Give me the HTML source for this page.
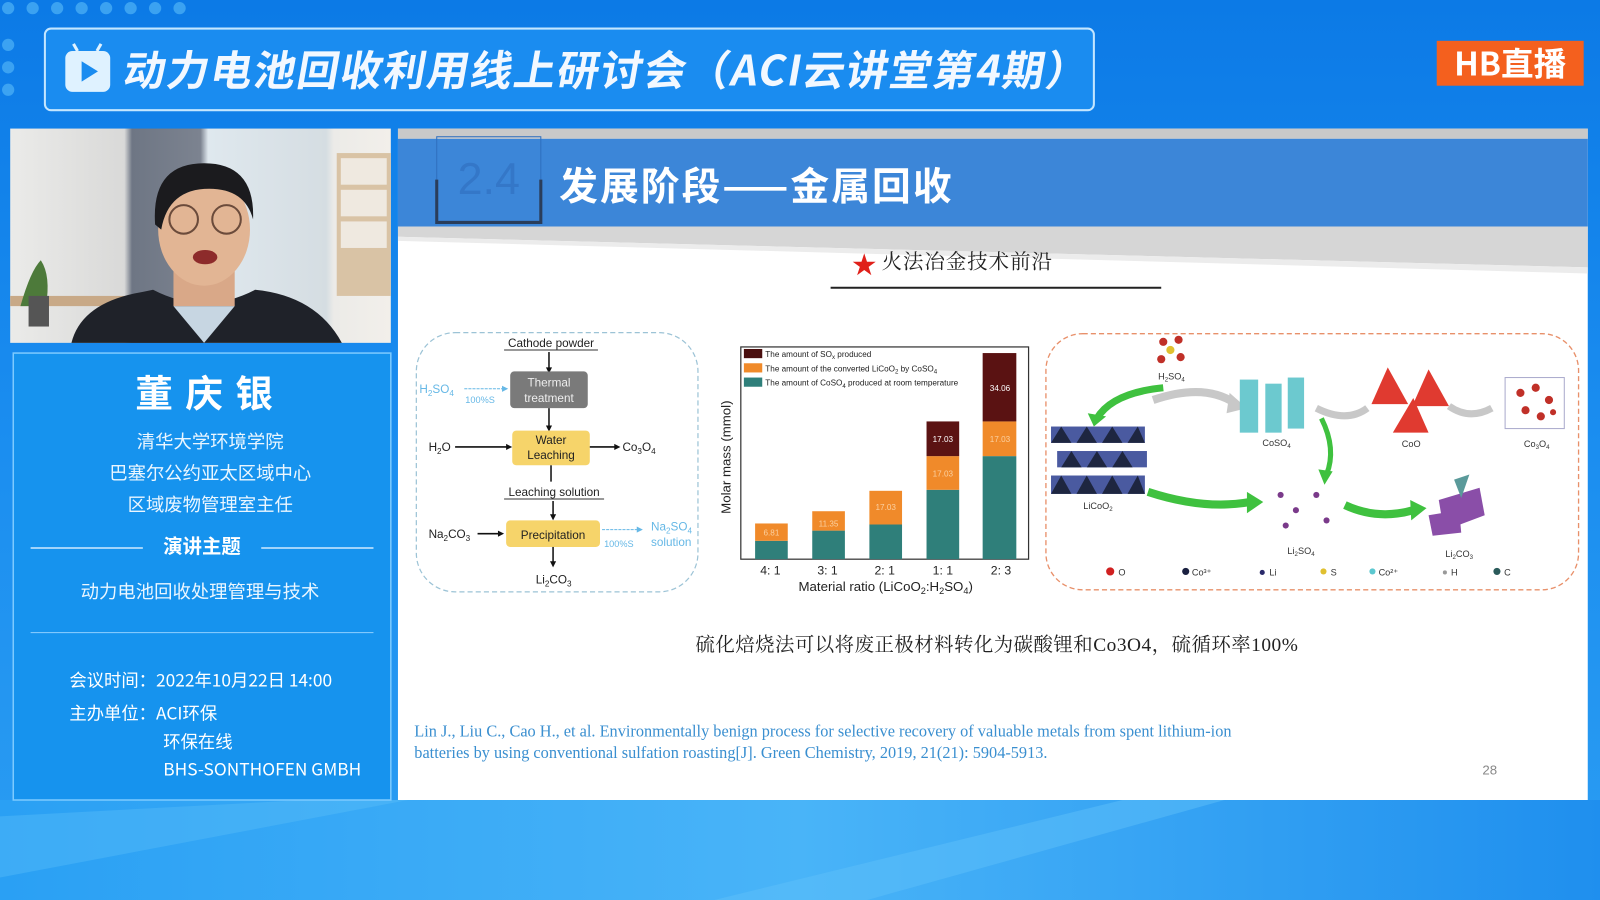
<!DOCTYPE html>
<html><head><meta charset="utf-8"><style>
html,body{margin:0;padding:0;width:1600px;height:900px;overflow:hidden;background:#1a8cf0}
svg{display:block}
text{font-family:"Liberation Sans","Noto Sans CJK SC",sans-serif}
.cn text,text.cn{font-family:"Noto Sans CJK SC","Liberation Sans",sans-serif}
.sf text,text.sf{font-family:"Liberation Serif","Noto Serif CJK SC",serif}
</style></head><body>
<svg width="1600" height="900" viewBox="0 0 1568 882" xmlns="http://www.w3.org/2000/svg">
<defs>
<linearGradient id="bg" x1="0" y1="0" x2="0" y2="1">
<stop offset="0" stop-color="#0c7ae6"/><stop offset="0.5" stop-color="#1b8ef0"/><stop offset="1" stop-color="#2b9df2"/></linearGradient>
<linearGradient id="bot" x1="0" y1="0" x2="1" y2="0">
<stop offset="0" stop-color="#2aa0f4"/><stop offset="0.5" stop-color="#49b4f8"/><stop offset="1" stop-color="#1f8fee"/></linearGradient>
<linearGradient id="cam" x1="0" y1="0" x2="1" y2="0">
<stop offset="0" stop-color="#ebebe9"/><stop offset="0.3" stop-color="#d9d9d8"/><stop offset="0.32" stop-color="#6e7684"/><stop offset="0.5" stop-color="#7c8390"/><stop offset="0.52" stop-color="#dfe8ee"/><stop offset="0.83" stop-color="#d5dde2"/><stop offset="0.85" stop-color="#ecebe8"/><stop offset="1" stop-color="#f2efea"/></linearGradient>
</defs>
<rect width="1568" height="882" fill="url(#bg)"/>
<polygon points="0,784 1568,784 1568,882 0,882" fill="url(#bot)"/>
<polygon points="700,882 1100,784 1200,784 850,882" fill="#5ec0fa" opacity="0.5"/>
<polygon points="0,800 300,784 400,784 0,860" fill="#62c2fa" opacity="0.35"/>
<g fill="#4fb3f7" opacity="0.7">
<circle cx="8" cy="8" r="6"/><circle cx="32" cy="8" r="6"/><circle cx="56" cy="8" r="6"/><circle cx="80" cy="8" r="6"/><circle cx="104" cy="8" r="6"/><circle cx="128" cy="8" r="6"/><circle cx="152" cy="8" r="6"/><circle cx="176" cy="8" r="6"/><circle cx="8" cy="44" r="6"/><circle cx="8" cy="66" r="6"/><circle cx="8" cy="88" r="6"/>
</g>
<!-- Title -->
<rect x="44" y="28" width="1028" height="80" rx="6" fill="#1a8cf0" stroke="#c4e6ff" stroke-width="2"/>
<rect x="64" y="50" width="44" height="40" rx="7" fill="#dff2ff"/>
<line x1="76" y1="50" x2="72" y2="43" stroke="#dff2ff" stroke-width="3"/><line x1="95" y1="50" x2="99" y2="43" stroke="#dff2ff" stroke-width="3"/>
<polygon points="80,60 80,80 96,70" fill="#1a8cf0"/>
<text x="120" y="84" class="cn" font-size="41" font-weight="700" fill="#f2f8ff" letter-spacing="1.5" transform="skewX(-10) translate(14,0)">动力电池回收利用线上研讨会（ACI云讲堂第4期）</text>
<!-- HB -->
<rect x="1408" y="40" width="144" height="44" fill="#f4601e"/>
<text x="1480" y="74" text-anchor="middle" class="cn" font-size="32" font-weight="700" fill="#fff">HB直播</text>
<!-- Webcam -->
<rect x="10" y="126" width="373" height="210" fill="url(#cam)"/>
<rect x="330" y="150" width="53" height="140" fill="#d9c3a5"/>
<rect x="334" y="155" width="45" height="26" fill="#efe9e0"/><rect x="334" y="186" width="45" height="26" fill="#efe9e0"/><rect x="334" y="217" width="45" height="26" fill="#efe9e0"/>
<rect x="10" y="290" width="140" height="10" fill="#c8a987"/>
<path d="M20 300 Q30 265 40 255 Q50 270 45 300 Z" fill="#4d7a3a"/>
<rect x="28" y="290" width="20" height="30" fill="#555"/>
<path d="M70 336 Q80 296 140 286 L150 284 Q200 310 250 284 Q310 290 335 336 Z" fill="#1f2229"/>
<path d="M170 300 L200 336 L230 300 Z" fill="#c7d6e2"/>
<rect x="170" y="255" width="60" height="45" fill="#d9a888"/>
<ellipse cx="200" cy="225" rx="45" ry="55" fill="#e2b594"/>
<path d="M152 220 Q148 160 200 160 Q250 160 248 215 Q240 185 205 185 Q165 185 158 225 Z" fill="#1b1b1e"/>
<circle cx="180" cy="215" r="14" fill="none" stroke="#6b4b3b" stroke-width="2"/><circle cx="222" cy="215" r="14" fill="none" stroke="#6b4b3b" stroke-width="2"/>
<ellipse cx="201" cy="252" rx="12" ry="7" fill="#8d2b2b"/>
<!-- Left panel -->
<rect x="13" y="346" width="370" height="438" fill="#1693ee" stroke="#7ccaff" stroke-width="1.5"/>
<text x="206" y="399" text-anchor="middle" class="cn" font-size="37" font-weight="700" fill="#fff" letter-spacing="12">董庆银</text>
<g class="cn" font-size="18" fill="#eaf6ff" text-anchor="middle">
<text x="206" y="439">清华大学环境学院</text>
<text x="206" y="470">巴塞尔公约亚太区域中心</text>
<text x="206" y="501">区域废物管理室主任</text>
<text x="198" y="542" font-weight="700" font-size="19" fill="#fff">演讲主题</text>
<text x="196" y="586">动力电池回收处理管理与技术</text>
</g>
<line x1="30" y1="537" x2="140" y2="537" stroke="#cfeaff" stroke-width="1.5"/><line x1="256" y1="537" x2="366" y2="537" stroke="#cfeaff" stroke-width="1.5"/>
<line x1="30" y1="620" x2="366" y2="620" stroke="#8fd0ff" stroke-width="1"/>
<g class="cn" font-size="17" fill="#fff">
<text x="68" y="673">会议时间：2022年10月22日 14:00</text>
<text x="68" y="705">主办单位：ACI环保</text>
<text x="160" y="733">环保在线</text>
<text x="160" y="760">BHS-SONTHOFEN GMBH</text>
</g>
<!-- Slide -->
<rect x="390" y="126" width="1166" height="658" fill="#fff"/>
<rect x="390" y="126" width="1166" height="10" fill="#c9c9c9"/>
<rect x="390" y="136" width="1166" height="86" fill="#3c86d8"/>
<polygon points="390,222 1556,222 1556,262 390,232" fill="#d6d6d6"/>
<polygon points="390,232 1556,262 1556,268 390,236" fill="#ececec"/>
<rect x="428" y="134" width="102" height="84" fill="none" stroke="#2f6fbf" stroke-width="1"/>
<path d="M428 176 L428 218 L530 218 L530 176" fill="none" stroke="#2a3d5a" stroke-width="3"/>
<text x="479" y="190" text-anchor="middle" font-size="44" fill="#3477c8">2.4</text>
<text x="548" y="196" class="cn" font-size="38" font-weight="700" fill="#fff" letter-spacing="2">发展阶段——金属回收</text>
<text x="835" y="268" fill="#e0201a" font-size="24">★</text>
<text x="864" y="263" class="sf" font-size="20" fill="#222" letter-spacing="1">火法冶金技术前沿</text>
<line x1="814" y1="282" x2="1138" y2="282" stroke="#222" stroke-width="2"/>
<!-- Flowchart -->
<rect x="408" y="326" width="276" height="254" rx="38" fill="none" stroke="#9cc3d6" stroke-width="1.2" stroke-dasharray="5,3"/>
<g font-size="11.5" fill="#222">
<text x="540" y="340" text-anchor="middle">Cathode powder</text>
<line x1="494" y1="343" x2="586" y2="343" stroke="#333"/>
<line x1="538" y1="345" x2="538" y2="362" stroke="#111" stroke-width="1.5"/><polygon points="535,360 541,360 538,366" fill="#111"/>
<rect x="500" y="364" width="76" height="36" rx="4" fill="#7a7a7a"/>
<text x="538" y="379" text-anchor="middle" fill="#eee">Thermal</text><text x="538" y="394" text-anchor="middle" fill="#eee">treatment</text>
<text x="411" y="385" fill="#66b8e6">H<tspan font-size="8" dy="3">2</tspan><tspan dy="-3">SO</tspan><tspan font-size="8" dy="3">4</tspan></text>
<line x1="455" y1="381" x2="494" y2="381" stroke="#66b8e6" stroke-dasharray="3,1"/><polygon points="492,378 498,381 492,384" fill="#66b8e6"/>
<text x="456" y="395" font-size="9" fill="#66b8e6">100%S</text>
<line x1="538" y1="400" x2="538" y2="419" stroke="#111" stroke-width="1.5"/><polygon points="535,417 541,417 538,423" fill="#111"/>
<rect x="502" y="422" width="76" height="34" rx="4" fill="#f6d46a"/>
<text x="540" y="435" text-anchor="middle">Water</text><text x="540" y="450" text-anchor="middle">Leaching</text>
<text x="420" y="442">H<tspan font-size="8" dy="3">2</tspan><tspan dy="-3">O</tspan></text>
<line x1="446" y1="438" x2="498" y2="438" stroke="#111" stroke-width="1.5"/><polygon points="496,435 502,438 496,441" fill="#111"/>
<line x1="578" y1="438" x2="604" y2="438" stroke="#111" stroke-width="1.5"/><polygon points="602,435 608,438 602,441" fill="#111"/>
<text x="610" y="442">Co<tspan font-size="8" dy="3">3</tspan><tspan dy="-3">O</tspan><tspan font-size="8" dy="3">4</tspan></text>
<line x1="540" y1="456" x2="540" y2="472" stroke="#111" stroke-width="1.5"/>
<text x="543" y="486" text-anchor="middle">Leaching solution</text>
<line x1="494" y1="489" x2="592" y2="489" stroke="#333"/>
<line x1="542" y1="491" x2="542" y2="506" stroke="#111" stroke-width="1.5"/><polygon points="539,504 545,504 542,510" fill="#111"/>
<rect x="496" y="510" width="92" height="26" rx="4" fill="#f6d46a"/>
<text x="542" y="528" text-anchor="middle">Precipitation</text>
<text x="420" y="527">Na<tspan font-size="8" dy="3">2</tspan><tspan dy="-3">CO</tspan><tspan font-size="8" dy="3">3</tspan></text>
<line x1="468" y1="523" x2="490" y2="523" stroke="#111" stroke-width="1.5"/><polygon points="488,520 494,523 488,526" fill="#111"/>
<line x1="590" y1="519" x2="626" y2="519" stroke="#66b8e6" stroke-dasharray="3,1"/><polygon points="624,516 630,519 624,522" fill="#66b8e6"/>
<text x="592" y="536" font-size="9" fill="#66b8e6">100%S</text>
<text x="638" y="520" fill="#66b8e6">Na<tspan font-size="8" dy="3">2</tspan><tspan dy="-3">SO</tspan><tspan font-size="8" dy="3">4</tspan></text>
<text x="638" y="535" fill="#66b8e6">solution</text>
<line x1="542" y1="536" x2="542" y2="552" stroke="#111" stroke-width="1.5"/><polygon points="539,550 545,550 542,556" fill="#111"/>
<text x="525" y="572">Li<tspan font-size="8" dy="3">2</tspan><tspan dy="-3">CO</tspan><tspan font-size="8" dy="3">3</tspan></text>
</g>
<!-- Chart -->
<rect x="726" y="340" width="282" height="208" fill="none" stroke="#333" stroke-width="1.2"/>
<g>
<rect x="740" y="530" width="32" height="18" fill="#2f7f7a"/><rect x="740" y="513" width="32" height="17" fill="#f08a2a"/>
<rect x="796" y="520" width="32" height="28" fill="#2f7f7a"/><rect x="796" y="501" width="32" height="19" fill="#f08a2a"/>
<rect x="852" y="514" width="32" height="34" fill="#2f7f7a"/><rect x="852" y="481" width="32" height="33" fill="#f08a2a"/>
<rect x="908" y="480" width="32" height="68" fill="#2f7f7a"/><rect x="908" y="447" width="32" height="33" fill="#f08a2a"/><rect x="908" y="413" width="32" height="34" fill="#5b1313"/>
<rect x="963" y="447" width="33" height="101" fill="#2f7f7a"/><rect x="963" y="413" width="33" height="34" fill="#f08a2a"/><rect x="963" y="346" width="33" height="67" fill="#5a1212"/>
</g>
<g font-size="8" fill="#fff" text-anchor="middle">
<text x="924" y="433">17.03</text><text x="980" y="383">34.06</text>
<text x="756" y="525" fill="#fbd0a0">6.81</text><text x="812" y="516" fill="#fbd0a0">11.35</text><text x="868" y="500" fill="#fbd0a0">17.03</text><text x="924" y="467" fill="#fbd0a0">17.03</text><text x="980" y="433" fill="#fbd0a0">17.03</text>
</g>
<rect x="729" y="342" width="18" height="9" fill="#4a0f0f"/><rect x="729" y="356" width="18" height="9" fill="#f08a2a"/><rect x="729" y="370" width="18" height="9" fill="#2f7f7a"/>
<g font-size="8" fill="#222">
<text x="750" y="350">The amount of SO<tspan font-size="6" dy="2">x</tspan><tspan dy="-2"> produced</tspan></text>
<text x="750" y="364">The amount of the converted LiCoO<tspan font-size="6" dy="2">2</tspan><tspan dy="-2"> by CoSO</tspan><tspan font-size="6" dy="2">4</tspan></text>
<text x="750" y="378">The amount of CoSO<tspan font-size="6" dy="2">4</tspan><tspan dy="-2"> produced at room temperature</tspan></text>
</g>
<text x="716" y="448" font-size="13" fill="#222" text-anchor="middle" transform="rotate(-90 716 448)">Molar mass (mmol)</text>
<g font-size="12" fill="#222" text-anchor="middle">
<text x="755" y="563">4: 1</text><text x="811" y="563">3: 1</text><text x="867" y="563">2: 1</text><text x="924" y="563">1: 1</text><text x="981" y="563">2: 3</text>
<text x="868" y="579" font-size="13">Material ratio (LiCoO<tspan font-size="9" dy="3">2</tspan><tspan dy="-3">:H</tspan><tspan font-size="9" dy="3">2</tspan><tspan dy="-3">SO</tspan><tspan font-size="9" dy="3">4</tspan><tspan dy="-3">)</tspan></text>
</g>
<!-- Molecule diagram -->
<rect x="1025" y="327" width="522" height="251" rx="36" fill="none" stroke="#e8906a" stroke-width="1.3" stroke-dasharray="5,3"/>
<g>
<rect x="1030" y="418" width="92" height="16" fill="#4a5aa0"/><rect x="1036" y="442" width="88" height="16" fill="#4a5aa0"/><rect x="1030" y="466" width="92" height="18" fill="#4a5aa0"/>
<g fill="#1e2640"><polygon points="1040,418 1050,434 1030,434"/><polygon points="1065,418 1075,434 1055,434"/><polygon points="1090,418 1100,434 1080,434"/><polygon points="1115,418 1122,434 1105,434"/>
<polygon points="1050,442 1060,458 1040,458"/><polygon points="1075,442 1085,458 1065,458"/><polygon points="1100,442 1110,458 1090,458"/>
<polygon points="1040,466 1050,484 1030,484"/><polygon points="1065,466 1075,484 1055,484"/><polygon points="1090,466 1100,484 1080,484"/><polygon points="1115,466 1122,484 1105,484"/></g>
<path d="M1140 380 Q1090 385 1075 410" stroke="#3fc13f" stroke-width="7" fill="none"/><polygon points="1066,405 1084,408 1072,418" fill="#3fc13f"/>
<path d="M1130 392 Q1180 375 1210 395" stroke="#c8c8c8" stroke-width="8" fill="none"/><polygon points="1205,385 1222,400 1202,405" fill="#c8c8c8"/>
<path d="M1125 482 Q1180 500 1225 492" stroke="#3fc13f" stroke-width="8" fill="none"/><polygon points="1222,482 1238,492 1222,503" fill="#3fc13f"/>
<path d="M1295 410 Q1310 440 1300 465" stroke="#3fc13f" stroke-width="5" fill="none"/><polygon points="1292,460 1306,462 1298,475" fill="#3fc13f"/>
<path d="M1318 495 Q1350 510 1385 500" stroke="#3fc13f" stroke-width="8" fill="none"/><polygon points="1382,490 1398,498 1383,510" fill="#3fc13f"/>
<path d="M1290 400 Q1320 415 1340 400" stroke="#c8c8c8" stroke-width="7" fill="none"/>
<path d="M1420 398 Q1440 412 1462 400" stroke="#c8c8c8" stroke-width="7" fill="none"/>
<g fill="#6cc9cf"><rect x="1215" y="372" width="18" height="52"/><rect x="1240" y="376" width="16" height="48"/><rect x="1262" y="370" width="16" height="50"/></g>
<g fill="#e03a30"><polygon points="1360,360 1380,396 1344,396"/><polygon points="1400,362 1420,398 1384,398"/><polygon points="1385,390 1400,424 1365,424"/></g>
<rect x="1475" y="370" width="58" height="50" fill="none" stroke="#aac"/>
<g fill="#c03028"><circle cx="1490" cy="385" r="4"/><circle cx="1505" cy="380" r="4"/><circle cx="1518" cy="392" r="4"/><circle cx="1495" cy="402" r="4"/><circle cx="1510" cy="408" r="4"/><circle cx="1522" cy="404" r="3"/></g>
<g fill="#c03028"><circle cx="1140" cy="335" r="4"/><circle cx="1155" cy="333" r="4"/><circle cx="1138" cy="352" r="4"/><circle cx="1157" cy="350" r="4"/></g><circle cx="1147" cy="343" r="4" fill="#e0c030"/>
<g fill="#7a3a8a"><circle cx="1255" cy="485" r="3"/><circle cx="1290" cy="485" r="3"/><circle cx="1270" cy="500" r="3"/><circle cx="1300" cy="510" r="3"/><circle cx="1260" cy="515" r="3"/></g>
<g fill="#8a4ea8"><polygon points="1410,490 1450,478 1455,505 1415,520"/><polygon points="1400,505 1430,500 1432,522 1404,525"/></g><polygon points="1425,470 1440,465 1432,488" fill="#5a9a9a"/>
</g>
<g font-size="9" fill="#333" text-anchor="middle">
<text x="1148" y="372">H<tspan font-size="6" dy="2">2</tspan><tspan dy="-2">SO</tspan><tspan font-size="6" dy="2">4</tspan></text>
<text x="1251" y="437">CoSO<tspan font-size="6" dy="2">4</tspan></text>
<text x="1383" y="438">CoO</text>
<text x="1506" y="438">Co<tspan font-size="6" dy="2">3</tspan><tspan dy="-2">O</tspan><tspan font-size="6" dy="2">4</tspan></text>
<text x="1076" y="499">LiCoO<tspan font-size="6" dy="2">2</tspan></text>
<text x="1275" y="543">Li<tspan font-size="6" dy="2">2</tspan><tspan dy="-2">SO</tspan><tspan font-size="6" dy="2">4</tspan></text>
<text x="1430" y="546">Li<tspan font-size="6" dy="2">2</tspan><tspan dy="-2">CO</tspan><tspan font-size="6" dy="2">3</tspan></text>
</g>
<g font-size="9" fill="#333">
<circle cx="1088" cy="560" r="4" fill="#d02020"/><text x="1096" y="564">O</text>
<circle cx="1162" cy="560" r="3.5" fill="#1a2040"/><text x="1168" y="564">Co³⁺</text>
<circle cx="1237" cy="561" r="2.5" fill="#2a2a6a"/><text x="1244" y="564">Li</text>
<circle cx="1297" cy="560" r="3" fill="#e0c030"/><text x="1304" y="564">S</text>
<circle cx="1345" cy="560" r="3" fill="#5cc8d0"/><text x="1351" y="564">Co²⁺</text>
<circle cx="1416" cy="561" r="2" fill="#999"/><text x="1422" y="564">H</text>
<circle cx="1467" cy="560" r="3.5" fill="#2a5a5a"/><text x="1474" y="564">C</text>
</g>
<!-- captions -->
<text x="977" y="638" text-anchor="middle" class="sf" font-size="19" fill="#222" letter-spacing="0.5">硫化焙烧法可以将废正极材料转化为碳酸锂和Co3O4，硫循环率100%</text>
<g class="sf" font-size="16" fill="#3a8fd0">
<text x="406" y="722">Lin J., Liu C., Cao H., et al. Environmentally benign process for selective recovery of valuable metals from spent lithium-ion</text>
<text x="406" y="743">batteries by using conventional sulfation roasting[J]. Green Chemistry, 2019, 21(21): 5904-5913.</text>
</g>
<text x="1460" y="759" text-anchor="middle" font-size="13" fill="#888">28</text>
</svg>
</body></html>
